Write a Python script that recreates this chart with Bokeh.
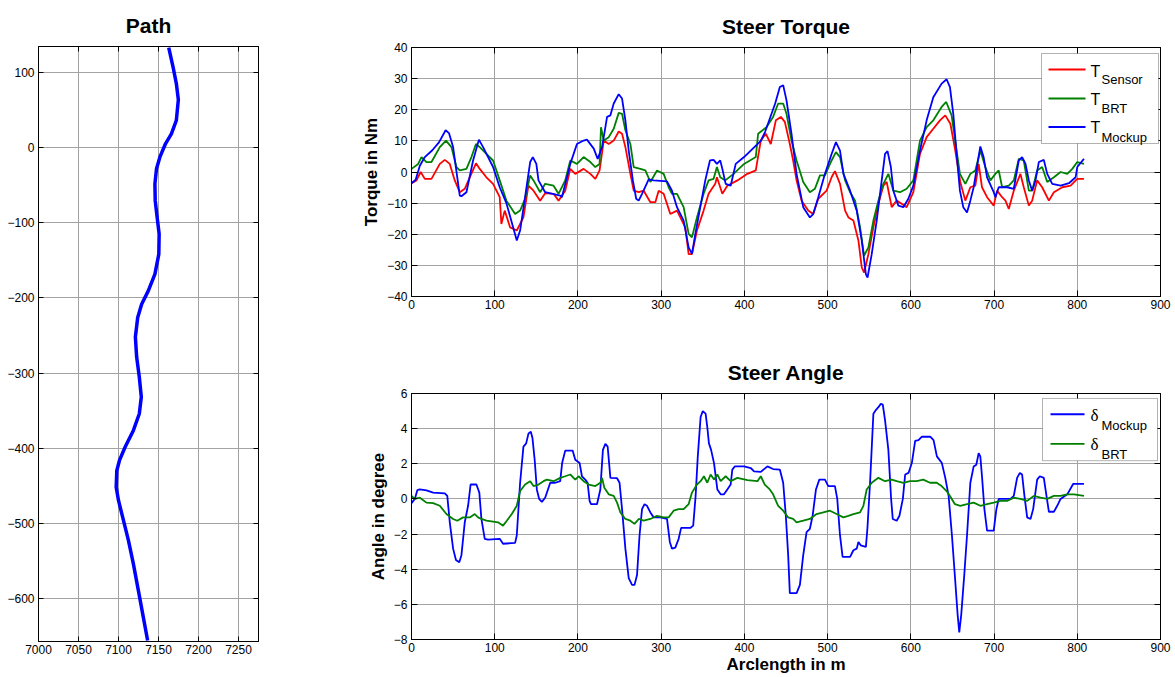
from bokeh.plotting import figure
from bokeh.layouts import row, column
from bokeh.models import Range1d, LinearAxis, FixedTicker, Label, BoxAnnotation
from bokeh.embed import file_html
from bokeh.resources import INLINE

FONT = "Liberation Sans"

# ---------------- data ----------------
path_x = [7162.8, 7168.2, 7172.3, 7174.8, 7172.3, 7166.1, 7158.7, 7151.7, 7147.5, 7145.5, 7145.9,
          7148.3, 7150.8, 7150.4, 7145.5, 7137.2, 7128.9, 7124.0, 7121.5, 7121.1, 7122.7, 7126.0,
          7128.5, 7126.0, 7118.6, 7108.3, 7101.2, 7097.9, 7097.1, 7100.0, 7106.2, 7112.4, 7118.6,
          7124.8, 7131.0, 7136.4]
path_y = [132.9, 107.0, 85.0, 63.6, 36.0, 18.2, 4.9, -12.9, -28.4, -48.4, -70.7,
          -92.9, -115.1, -141.8, -168.4, -190.7, -208.4, -226.2, -248.4, -252.1, -278.7, -305.3,
          -331.9, -354.1, -376.3, -398.4, -416.2, -429.5, -451.7, -469.4, -496.0, -522.6, -553.7,
          -589.1, -624.6, -655.7]

s_sensor = [0, 6, 11, 16, 24, 34, 40, 46, 52, 58, 64, 70, 77.5, 82, 90, 98, 106, 108, 112, 118.5,
            126.5, 134.5, 140.5, 146.6, 154.6, 160.6, 170.7, 176.7, 184.7, 190.8, 196.8, 206.8,
            214.9, 220.9, 226, 231, 237, 243, 249, 253, 257, 263, 267, 273, 279, 287, 293, 297,
            303, 311, 319, 329, 333, 337, 343, 351, 357, 365, 367, 373.5, 379.5, 391.6, 403.6,
            413.7, 419.7, 425.7, 431.7, 437.8, 443.8, 448.6, 454.6, 458.6, 462.7, 468.7, 476.7,
            482.7, 488.8, 498.8, 504.8, 508.8, 514.9, 521, 525, 531, 537, 541, 543.8, 549, 555,
            561, 567, 571, 577, 583, 589, 595, 603, 611, 619, 627, 635, 641.4, 647.5, 653.4,
            659.4, 665.5, 671.5, 677.5, 681.5, 685.5, 691.6, 699.6, 703.6, 709.7, 713.7, 717.7,
            723.7, 731.7, 735.7, 741.8, 745.8, 751.8, 757.8, 765.9, 771.9, 782, 792, 800, 808]
t_sensor = [-3.6, -2.7, 0, -2.2, -2.2, 2.6, 3.9, 2.6, -2.7, -6.5, -5.4, -1.7, 2.8, 1, -1.7, -3.8,
            -8.1, -16.7, -12.4, -17.8, -18.8, -14.6, -4.4, -6, -9.2, -6.8, -7, -9.2, -6, 1, -0.6,
            1, -0.6, -2.2, 0.5, 10.1, 9, 10.1, 13, 12.3, 8, -0.6, -6, -6.5, -6, -9.7, -9.7, -6,
            -7, -13.5, -12.4, -17.8, -26.4, -26.4, -18.8, -12.4, -7, -3.8, -1.7, -7, -4.4, -2.7,
            -0.6, 0.5, 10.1, 12.3, 9, 16.6, 17.7, 16.1, 9, 3.7, -2.7, -9.2, -12.4, -13.5, -8.6,
            -6, -1.7, 0.3, -3.8, -12.4, -14.6, -15.6, -22, -30.6, -32.3, -26.4, -17.8, -10.2,
            -4.4, -3.2, -11.3, -9.2, -10.2, -11.3, -6.5, 5.8, 11.2, 13.9, 16.6, 18.2, 15.5, 6.9,
            -3.2, -9.2, -4.9, -4.4, 2.6, -4.9, -8.1, -10.8, -6, -8.1, -9.2, -11.9, -6, -0.6,
            -4.9, -10.8, -9.2, -2.7, -4.9, -9.2, -6.5, -4.9, -4.4, -2.2, -2.2]

s_brt = [0, 8, 12, 18, 24, 34, 41.4, 48, 54, 58, 66, 72, 77.5, 82, 90, 98, 106, 114, 124.5,
         130.5, 136.5, 142.6, 146.6, 154.6, 160.6, 170.7, 176.7, 184.7, 190.8, 198.8, 206.8,
         214.9, 220.9, 226, 227.7, 231, 237, 243, 249, 253, 257, 263, 267, 275, 281, 287, 295,
         303, 309, 313, 319, 327, 333, 337, 343, 351, 357, 363, 367, 371, 377, 387, 399.6,
         413.7, 416.5, 426.5, 434.5, 440.6, 446.6, 450.6, 456.6, 462.7, 470.7, 478.7, 484.7,
         490.8, 496.8, 504.8, 510, 514.9, 521, 527, 533, 539, 543.8, 549, 555, 561, 567, 573,
         579, 587, 595, 603, 611, 619, 627, 637, 642.5, 649, 655, 659, 665.5, 671.5, 677.5,
         683.5, 689.5, 695.6, 701.6, 705.6, 709.7, 717.7, 723.7, 729.7, 735.7, 741.8, 745.8,
         751.8, 757.8, 763.9, 771.9, 780, 788, 794, 800, 808]
t_brt = [1, 2.6, 4.8, 3.2, 3.2, 8, 10.1, 8, 1.6, 0.5, 1, 4.8, 9, 8, 5.8, 3.7, -2.7, -9.2, -13.5,
         -12.4, -8.6, -1.1, -2.7, -6.5, -3.8, -4.4, -7, -2.7, 3.7, 2.6, 4.8, 3.2, 1.6, 2.6, 14.4,
         10.1, 11.2, 13.9, 19, 18.7, 13.4, 9, 1.6, 1, 0.5, -3.2, 0.5, -0.6, -4.9, -7, -7, -11.3,
         -19.9, -21, -14.6, -7, -2.7, -2.2, 1.6, -1.7, -2.7, -0.6, 2.6, 4.8, 12.3, 14.4, 17.7,
         22, 22, 18.7, 10.1, 3.7, -3.2, -6.5, -5.4, -1.1, -1.1, 3.7, 6.4, 4.8, -2.7, -6.5,
         -9.2, -17.8, -26.9, -24.2, -15.6, -9.2, -3.8, -0.6, -6, -6.5, -5.4, -2.7, 10.1, 14.4,
         16.6, 20.9, 22.5, 18.2, 6.9, -0.6, -3.8, -0.6, 0.5, 6.9, 1.6, -2.7, -0.6, 0.5, -4.9,
         -4.4, -2.7, 4.2, 3.7, -6, -6, 0.5, 1.6, -3.2, -1.7, 0, -0.6, 1, 3.2, 2.6]

s_mock = [0, 5, 10, 16, 25, 33, 41, 45, 50, 58, 60, 66, 74, 81, 86, 98, 106, 114, 126.5, 130.5,
          136.5, 142.6, 145.8, 150, 152.6, 160.6, 178.7, 180.7, 190.8, 198.8, 206.8, 210.8, 219,
          223.7, 229, 235, 239, 243, 249, 253, 257, 261, 266, 270, 273, 277, 285, 291, 307, 313,
          319, 327, 333, 337, 341, 347, 353, 358.6, 363, 367, 371, 373.5, 377.5, 383.5, 389.6,
          399.6, 419.7, 425, 431, 437, 442.6, 446.6, 450.6, 456.6, 462.7, 470.7, 478.7, 482.7,
          488.8, 496.8, 504.8, 510, 514.9, 519, 527, 535, 541, 546, 548, 553, 559, 565, 569, 572,
          576, 579, 585, 591, 597, 603, 611, 619, 627, 637, 643, 647, 651, 655, 659, 663, 667.5,
          671.5, 675.5, 683.5, 687.5, 691.6, 699.6, 701.6, 705.6, 715.7, 723.7, 729.7, 733.7,
          737.8, 741.8, 745.8, 749.8, 753.8, 759.8, 763.9, 769.9, 780, 790, 798, 800, 808]
t_mock = [-3.6, -2.5, 2, 4.8, 7, 9.5, 13.4, 12.5, 8, -7.6, -7.8, -6.5, 3.7, 10.4, 8, 1.6, -4.9,
          -10, -22, -18.8, -8, 3.2, 4.8, 2.6, -2.7, -6.5, -7.6, -8.1, 2.6, 9, 10.1, 10.4, 7.5,
          4.2, 8, 17.7, 18.2, 22, 25, 23.6, 16.6, 6.9, -2.7, -8.6, -9.2, -7, -2.4, -2.7, -3,
          -6, -11.3, -15.6, -24.2, -26.3, -20, -11.3, -2.7, 3.7, 3.9, 2.6, 3.7, 1, -3.8, -4.4,
          2.6, 4.8, 10, 13, 17.5, 22, 27.3, 27.9, 23, 12.3, -0.6, -11.3, -14.6, -13.5, -8.1,
          -0.6, 5.8, 9.6, 6.9, -0.6, -6, -12.4, -22, -32.9, -33.9, -26.4, -15.6, -2.7, 5.8, 6.7,
          1.6, -6, -10.8, -11.3, -8.6, -4.4, 6.9, 16.6, 24, 28.4, 29.8, 27.3, 18.7, 5.8, -6,
          -11.3, -13, -9.2, -4.9, 8.2, 4.7, -1.7, -6.5, -8.1, -4.9, -4.9, -5.4, 3.7, 4.8, 2.6,
          -2.7, -6, -2.7, 3.2, 3.9, -0.6, -3.8, -4.4, -3.6, -1.7, 1.6, 4.2]

s_dmock = [0, 4, 7, 10, 18, 26, 40, 43, 46, 50, 53.4, 57.4, 60, 64, 68, 71, 78, 81.5, 84, 88, 92,
           106, 110, 124.5, 126.5, 130.5, 134.5, 137.8, 140.6, 143.4, 145.4, 148, 150.6, 153.4,
           156.6, 160.6, 166.7, 172.7, 178.7, 181, 184.7, 193.6, 196.8, 202, 204.8, 208.8, 211.6,
           214, 215.7, 222.9, 226.9, 230, 233, 235.7, 239, 247, 250, 253, 257, 261, 265, 268,
           271, 274, 277, 280, 283, 287, 291, 299, 307, 310.4, 313, 317, 321, 324, 335, 338.5,
           341.4, 344, 347.4, 350, 353.4, 355.4, 357.4, 360, 363.5, 367.5, 371.5, 375.5, 379.5,
           383.5, 385.5, 388.4, 399.6, 407.6, 411.6, 419.7, 427.7, 434.5, 442.6, 446.6, 449.8,
           452.6, 454.6, 462.7, 466.7, 470.7, 474.7, 478.7, 482, 486, 490, 496.8, 500.8, 508.8,
           511.6, 514.9, 518, 527, 531, 535, 537, 539.8, 546, 547.8, 551, 555, 558.2, 561, 563.9,
           566.3, 569, 573, 576.3, 578.3, 583, 586.3, 590.4, 593.2, 597.2, 601.2, 605.2, 609.2,
           613.3, 623.3, 627.3, 631.3, 637.3, 641.4, 645.4, 649.4, 653.4, 656.2, 658.2, 660.6,
           664.2, 667.5, 671.5, 675.5, 678.7, 681.5, 683.5, 685.5, 688.4, 691.6, 699.6, 702.8,
           705.6, 719.7, 723.7, 727.7, 731, 733.7, 736.5, 739.8, 743.8, 747, 751.8, 755, 759.8,
           763, 765.9, 771.9, 775.9, 779.9, 788, 795.2, 808]
d_mock = [-0.24, 0, 0.5, 0.54, 0.49, 0.36, 0.32, 0.17, -1.33, -2.83, -3.48, -3.61, -3.2, -1.33,
          -0.39, 0.82, 0.82, 0.36, -1.14, -2.27, -2.32, -2.27, -2.55, -2.5, -2.08, 0.92, 2.98,
          3.16, 3.73, 3.82, 3.45, 2.23, 0.54, 0, -0.17, 0.07, 0.92, 0.92, 1.01, 2.04, 2.75, 2.75,
          2.23, 2.04, 1.29, 1.1, 0.92, -0.11, -0.3, -0.3, 0.54, 2.79, 3.13, 2.98, 1.2, 1.18, 0.92,
          -0.58, -2.83, -4.51, -4.89, -4.89, -4.33, -2.08, -0.58, -0.3, -0.39, -0.77, -1.05,
          -1.05, -1.14, -2.45, -2.83, -2.77, -2.27, -1.65, -1.65, -1.52, 0.17, 2.42, 4.66, 5,
          4.85, 4.1, 3.16, 2.79, 2.04, 0.54, 0.26, 0.26, 0.54, 0.82, 1.67, 1.85, 1.85, 1.76,
          1.57, 1.54, 1.85, 1.7, 1.67, 0.92, -0.96, -3.2, -5.36, -5.36, -4.89, -3.2, -1.89,
          -1.7, -0.96, 0.54, 1.1, 1.1, 0.73, 0.73, 0, -2.08, -3.3, -3.3, -2.92, -2.83, -2.45,
          -2.64, -2.73, -1.7, 0.92, 4.85, 5.07, 5.22, 5.41, 5.37, 4.48, 2.79, 0, -1.14, -1.24,
          -0.96, 0, 1.39, 1.48, 2.04, 3.31, 3.35, 3.54, 3.54, 3.35, 2.42, 2.04, 1.2, 0.17, -2.08,
          -4.7, -6.57, -7.6, -6.57, -4.33, -2.08, 0.92, 1.85, 1.95, 2.6, 2.42, 1.29, -0.58, -1.8,
          -1.8, -0.58, 0, 0, 0.17, 1.2, 1.48, 1.39, 0.17, -1.05, -1.14, -0.58, 1.1, 1.29, 1.2,
          0.17, -0.73, -0.73, -0.39, 0, 0.26, 0.86, 0.86]

s_dbrt = [0, 4, 10, 18, 26, 34, 42, 50, 55, 62, 70, 76, 80, 84, 90, 98, 104, 110, 114.5, 120.5,
          126.5, 130.5, 136.5, 142.6, 146.6, 152.6, 158.6, 162.7, 170.7, 178.7, 184.7, 190.8,
          196.8, 200.8, 206.8, 212.9, 220.9, 226.9, 229, 231.7, 237, 243, 247, 251, 257, 263,
          268, 273, 279, 287, 295, 303, 309, 315, 321, 327, 333, 337, 343, 347.4, 351.4, 355.4,
          359.4, 363.5, 367.5, 371.5, 377.5, 383.5, 391.6, 403.6, 415.7, 419.7, 424.5, 430.5,
          434.5, 440.6, 446.6, 452.6, 458.6, 462.7, 470.7, 478.7, 486.7, 494.8, 502.8, 510.8,
          518.9, 524.9, 531, 539, 543, 547, 553, 561, 569, 577, 583, 591, 599, 607, 615, 623,
          631, 637, 643, 647, 653, 659.4, 667.5, 675.5, 683.5, 691.6, 699.6, 707.6, 715.7,
          723.7, 731.7, 739.8, 747.8, 755.8, 763.9, 771.9, 780, 788, 796, 808]
d_brt = [0.17, 0, 0.07, -0.21, -0.24, -0.39, -0.86, -1.14, -1.24, -1.05, -1.05, -0.86, -1.05,
         -1.14, -1.24, -1.29, -1.33, -1.52, -1.24, -0.86, -0.39, 0.45, 0.82, 1.01, 0.73, 0.82,
         1.01, 1.1, 1.01, 1.2, 1.29, 1.39, 1.1, 1.29, 1.01, 0.82, 0.73, 0.92, 1.2, 0.64, 0.26,
         0.17, -0.21, -0.77, -1.14, -1.24, -1.42, -1.14, -1.24, -1.14, -0.96, -1.05, -1.05,
         -0.67, -0.58, -0.58, -0.3, 0.36, 0.82, 1.01, 1.29, 0.92, 1.39, 1.1, 1.39, 1.01, 1.29,
         1.01, 1.2, 1.07, 1.01, 1.29, 0.82, 0.54, 0.26, -0.39, -0.67, -1.05, -1.14, -1.33,
         -1.24, -1.14, -0.86, -0.77, -0.67, -0.86, -1.05, -0.96, -0.86, -0.77, -0.39, 0.54,
         0.92, 1.2, 1.01, 1.1, 1.01, 0.92, 1.01, 1.01, 1.1, 0.92, 0.92, 0.73, 0.45, 0.17, -0.3,
         -0.39, -0.3, -0.21, -0.39, -0.3, -0.21, -0.11, -0.11, 0.07, 0, -0.11, 0.17, 0.07, 0,
         0.17, 0.17, 0.26, 0.26, 0.17]

path_xticks = [7000, 7050, 7100, 7150, 7200, 7250]
path_yticks = [-600, -500, -400, -300, -200, -100, 0, 100]
arc_ticks = [0, 100, 200, 300, 400, 500, 600, 700, 800, 900]
torque_ticks = [-40, -30, -20, -10, 0, 10, 20, 30, 40]
angle_ticks = [-8, -6, -4, -2, 0, 2, 4, 6]

# ---------------- styling helpers ----------------
def style(p, xticks, yticks, tick_len):
    p.background_fill_color = "white"
    p.border_fill_color = "white"
    p.outline_line_color = "black"
    p.outline_line_width = 1
    p.outline_line_alpha = 1
    p.title.text_font = FONT
    p.title.text_font_size = "21px"
    p.title.text_font_style = "bold"
    p.title.text_color = "black"
    p.title.align = "center"
    p.title.standoff = 19
    p.xaxis.ticker = FixedTicker(ticks=xticks)
    p.yaxis.ticker = FixedTicker(ticks=yticks)
    p.xgrid.ticker = FixedTicker(ticks=xticks)
    p.ygrid.ticker = FixedTicker(ticks=yticks)
    for g in (p.xgrid, p.ygrid):
        g.grid_line_color = "#a3a3a3"
        g.grid_line_width = 1
    for ax in list(p.xaxis) + list(p.yaxis):
        ax.major_tick_in = tick_len
        ax.major_tick_out = 0
        ax.minor_tick_line_color = None
        ax.axis_line_color = "black"
        ax.major_tick_line_color = "black"
        ax.major_label_text_font = FONT
        ax.major_label_text_font_size = "12px"
        ax.major_label_text_color = "black"
        ax.axis_label_text_font = FONT
        ax.axis_label_text_font_size = "17px"
        ax.axis_label_text_font_style = "bold"
        ax.axis_label_text_color = "black"
    p.xaxis.major_label_standoff = 3
    p.yaxis.major_label_standoff = 4
    p.yaxis.axis_label_standoff = 3
    p.xaxis.axis_label_standoff = 0
    # mirror ticks on the top and right edges (no labels)
    for side, t in (("right", yticks), ("above", xticks)):
        ax = LinearAxis(ticker=FixedTicker(ticks=t),
                        major_label_overrides={v: "" for v in t},
                        major_label_text_font_size="1px",
                        major_label_standoff=0, major_tick_in=tick_len, major_tick_out=0,
                        minor_tick_line_color=None, axis_line_color="black",
                        major_tick_line_color="black")
        p.add_layout(ax, side)


common = dict(output_backend="svg", toolbar_location=None)

# ---------------- Path ----------------
path = figure(width=288, height=676, x_range=Range1d(7000, 7275), y_range=Range1d(-657, 134.3),
              min_border_left=38, min_border_right=30, min_border_top=46, min_border_bottom=35,
              title="Path", **common)
path.line(path_x, path_y, color="#0000ff", line_width=3.5)
style(path, path_xticks, path_yticks, 5)

# ---------------- Steer Torque ----------------
torque = figure(width=886, height=338, x_range=Range1d(0, 900), y_range=Range1d(-40, 40),
                min_border_left=123, min_border_right=14, min_border_top=47, min_border_bottom=42,
                title="Steer Torque", y_axis_label="Torque in Nm", **common)
torque.line(s_sensor, t_sensor, color="#ff0000", line_width=1.8)
torque.line(s_brt, t_brt, color="#008000", line_width=1.8)
torque.line(s_mock, t_mock, color="#0000ff", line_width=1.8)
style(torque, arc_ticks, torque_ticks, 6)

# frame geometry (page px) used only to place the legend decorations
T_X0, T_X1, T_Y0, T_Y1 = 411, 1160, 47, 296
def tdx(px):
    return (px - T_X0) / (T_X1 - T_X0) * 900
def tdy(py):
    return 40 - (py - T_Y0) / (T_Y1 - T_Y0) * 80

torque.add_layout(BoxAnnotation(left=tdx(1041), right=tdx(1158), top=tdy(53), bottom=tdy(143),
                                fill_color="white", fill_alpha=1, line_color="black", line_width=1))
for col, yy, sub, by, sb in (("#ff0000", 69, "Sensor", 70.5, 79.3),
                             ("#008000", 98, "BRT", 99.3, 108.3),
                             ("#0000ff", 126.5, "Mockup", 127.3, 136.5)):
    torque.add_layout(BoxAnnotation(left=tdx(1048), right=tdx(1085), top=tdy(yy - 1), bottom=tdy(yy + 1),
                                    fill_color=col, fill_alpha=1, line_color=None))
    torque.add_layout(Label(x=tdx(1090), y=tdy(by), text="T", text_font=FONT, text_font_size="16px",
                            text_baseline="alphabetic", text_align="left", text_color="black"))
    torque.add_layout(Label(x=tdx(1101), y=tdy(sb), text=sub, text_font=FONT, text_font_size="13px",
                            text_baseline="alphabetic", text_align="left", text_color="black"))

# ---------------- Steer Angle ----------------
angle = figure(width=886, height=338, x_range=Range1d(0, 900), y_range=Range1d(-8, 6),
               min_border_left=123, min_border_right=14, min_border_top=55, min_border_bottom=34,
               title="Steer Angle", x_axis_label="Arclength in m", y_axis_label="Angle in degree",
               **common)
angle.line(s_dmock, d_mock, color="#0000ff", line_width=1.8)
angle.line(s_dbrt, d_brt, color="#008000", line_width=1.8)
style(angle, arc_ticks, angle_ticks, 6)
angle.xaxis[0].major_label_standoff = 2

A_Y0, A_Y1 = 393, 642
def ady(py):
    return 6 - (py - A_Y0) / (A_Y1 - A_Y0) * 14

angle.add_layout(BoxAnnotation(left=tdx(1042), right=tdx(1157), top=ady(398), bottom=ady(461),
                               fill_color="white", fill_alpha=1, line_color="black", line_width=1))
for col, yy, sub, by, sb in (("#0000ff", 414, "Mockup", 415, 425),
                             ("#008000", 444, "BRT", 444.5, 454.5)):
    angle.add_layout(BoxAnnotation(left=tdx(1050), right=tdx(1084), top=ady(yy - 1), bottom=ady(yy + 1),
                                   fill_color=col, fill_alpha=1, line_color=None))
    angle.add_layout(Label(x=tdx(1090), y=ady(by), text="\u03b4", text_font="Liberation Serif",
                           text_font_size="17px", text_baseline="alphabetic", text_align="left",
                           text_color="black"))
    angle.add_layout(Label(x=tdx(1101), y=ady(sb), text=sub, text_font=FONT, text_font_size="13px",
                           text_baseline="alphabetic", text_align="left", text_color="black"))

layout = row(path, column(torque, angle))
open("out.html", "w").write(file_html(layout, INLINE))
